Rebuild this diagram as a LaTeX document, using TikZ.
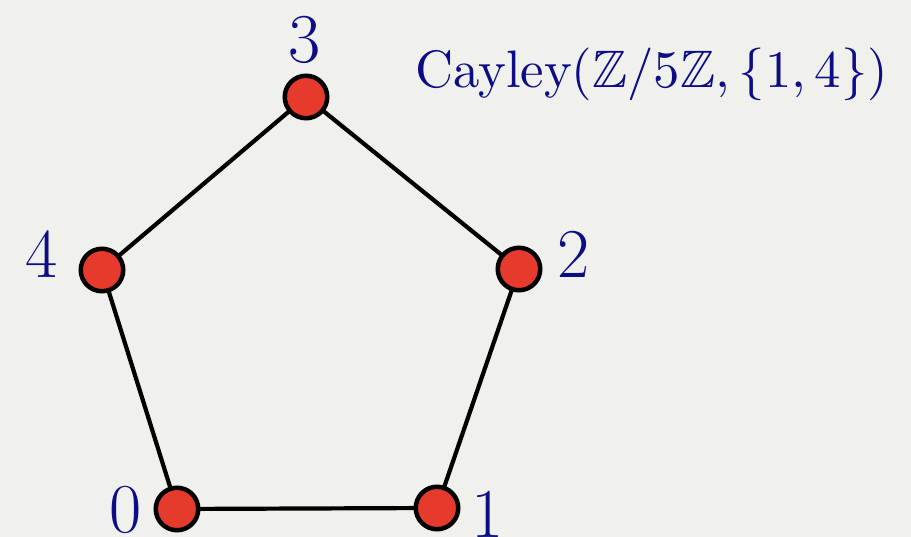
\documentclass[tikz,border=0pt]{standalone}
\usepackage{graphicx}
\usepackage{amssymb}
\definecolor{bgc}{HTML}{F0F0EC}
\definecolor{nodered}{HTML}{E53A2C}
\definecolor{navy}{HTML}{0C0C86}
\begin{document}
\begin{tikzpicture}[x=1pt,y=1pt,
  vert/.style={circle,draw=black,fill=nodered,line width=4.5pt,minimum size=42.5pt,inner sep=0pt},
  lbl/.style={text=navy,anchor=base,inner sep=0pt,font=\fontsize{70}{80}\selectfont},
  edge/.style={draw=black,line width=4.2pt}]
\fill[bgc] (0,0) rectangle (911,537);
\useasboundingbox (0,0) rectangle (911,537);
\coordinate (c0) at (177,28);
\coordinate (c1) at (437,29);
\coordinate (c2) at (519,268);
\coordinate (c3) at (306,440);
\coordinate (c4) at (102,267);
\draw[edge] (c0) -- (c1) -- (c2) -- (c3) -- (c4) -- cycle;
\node[vert] (v0) at (c0) {};
\node[vert] (v1) at (c1) {};
\node[vert] (v2) at (c2) {};
\node[vert] (v3) at (c3) {};
\node[vert] (v4) at (c4) {};
\node[lbl] (l3) at (305,474) {3};
\node[lbl] (l2) at (574,259) {2};
\node[lbl] (l4) at (42,259) {4};
\node[lbl] (l0) at (126,4) {0};
\node[lbl] (l1) at (488,-1) {1};
\node[text=navy,anchor=base west,inner sep=0pt] (title) at (415,449)
  {\scalebox{5.27}{\fontsize{10}{12}\selectfont Cayley$(\mathbb{Z}/5\mathbb{Z},\{1,4\})$}};
\end{tikzpicture}
\end{document}
